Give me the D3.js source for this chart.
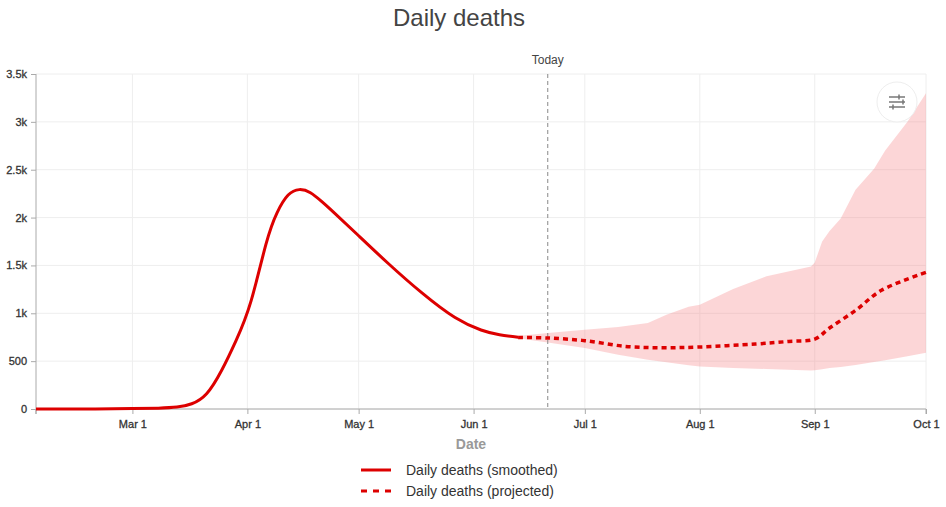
<!DOCTYPE html>
<html>
<head>
<meta charset="utf-8">
<script src="https://cdn.jsdelivr.net/npm/d3@7"></script>
<style>
  body { margin: 0; background: #fff; }
  text { font-family: "Liberation Sans", Arial, sans-serif; }
</style>
</head>
<body>
<div id="container"></div>
<script>
// smoothed (observed) daily deaths
const smoothDates = ["2020-02-04", "2020-02-20", "2020-03-01", "2020-03-08", "2020-03-13", "2020-03-17",
  "2020-03-21", "2020-03-25", "2020-03-29", "2020-04-02", "2020-04-06", "2020-04-09", "2020-04-12",
  "2020-04-15", "2020-04-18", "2020-04-21", "2020-04-24", "2020-05-01", "2020-05-09", "2020-05-18",
  "2020-05-27", "2020-06-03", "2020-06-08", "2020-06-13"];
const smoothValues = [0, 1, 4, 9, 20, 55, 160, 400, 720, 1130, 1720, 2050, 2235, 2292, 2260, 2170,
  2065, 1810, 1520, 1215, 955, 825, 775, 750];

// projected daily deaths
const projDates = ["2020-06-13", "2020-06-21", "2020-07-01", "2020-07-12", "2020-07-22", "2020-08-01",
  "2020-08-16", "2020-08-25", "2020-09-01", "2020-09-05", "2020-09-12", "2020-09-19", "2020-10-01"];
const projValues = [748, 742, 714, 654, 640, 648, 679, 706, 731, 846, 1030, 1240, 1428];

// uncertainty band
const bandDates = ["2020-06-13", "2020-06-21", "2020-07-01", "2020-07-10", "2020-07-18", "2020-07-23",
  "2020-07-29", "2020-08-01", "2020-08-10", "2020-08-19", "2020-08-31", "2020-09-01", "2020-09-03",
  "2020-09-05", "2020-09-08", "2020-09-12", "2020-09-17", "2020-09-20", "2020-09-26", "2020-10-01"];
const bandLower = [740, 696, 637, 567, 515, 488, 458, 445, 428, 418, 403, 404, 415, 428, 440, 460,
  490, 510, 550, 588];
const bandUpper = [762, 794, 829, 857, 899, 985, 1069, 1090, 1254, 1386, 1490, 1530, 1750, 1860,
  1990, 2290, 2510, 2700, 3000, 3300];

const yTicks = [0, 500, 1000, 1500, 2000, 2500, 3000, 3500];
const todayDate = "2020-06-21";
const legendLabels = ["Daily deaths (smoothed)", "Daily deaths (projected)"];

const width = 946, height = 507;
const margin = { top: 74, right: 20, bottom: 98, left: 36 };
const red = "#dd0000";
const parse = d3.timeParse("%Y-%m-%d");

const svg = d3.select("#container").append("svg")
  .attr("width", width)
  .attr("height", height);

const x = d3.scaleTime()
  .domain([parse("2020-02-04"), parse("2020-10-01")])
  .range([margin.left, width - margin.right]);
const y = d3.scaleLinear()
  .domain([0, 3500])
  .range([height - margin.bottom, margin.top]);

const monthTicks = d3.timeMonth.range(parse("2020-03-01"), parse("2020-10-02"));

// grid
svg.append("g").selectAll("line").data(yTicks).enter().append("line")
  .attr("x1", margin.left).attr("x2", width - margin.right)
  .attr("y1", d => y(d)).attr("y2", d => y(d))
  .attr("stroke", "#eeeeee").attr("stroke-width", 1);
svg.append("g").selectAll("line").data(monthTicks).enter().append("line")
  .attr("x1", d => x(d)).attr("x2", d => x(d))
  .attr("y1", margin.top).attr("y2", height - margin.bottom)
  .attr("stroke", "#eeeeee").attr("stroke-width", 1);

// band
const band = bandDates.map((d, i) => ({ date: parse(d), lo: bandLower[i], hi: bandUpper[i] }));
svg.append("path")
  .datum(band)
  .attr("fill", "rgba(247,128,132,0.32)")
  .attr("d", d3.area().x(d => x(d.date)).y0(d => y(d.lo)).y1(d => y(d.hi)));

// today marker
svg.append("line")
  .attr("x1", x(parse(todayDate))).attr("x2", x(parse(todayDate)))
  .attr("y1", margin.top).attr("y2", height - margin.bottom)
  .attr("stroke", "#888").attr("stroke-width", 1)
  .attr("stroke-dasharray", "4,3");
svg.append("text")
  .attr("x", x(parse(todayDate))).attr("y", 64)
  .attr("text-anchor", "middle")
  .attr("font-size", 12).attr("fill", "#444")
  .text("Today");

// axes
const xAxis = d3.axisBottom(x)
  .tickValues(monthTicks)
  .tickFormat(d3.timeFormat("%b %-d"))
  .tickSize(5);
const gx = svg.append("g")
  .attr("transform", "translate(0," + (height - margin.bottom) + ")")
  .call(xAxis);
gx.select(".domain").attr("stroke", "#aaa").attr("d", "M" + margin.left + ",0V5V0H" + (width - margin.right) + "V5");
gx.selectAll(".tick line").attr("stroke", "#aaa");
gx.selectAll(".tick text")
  .attr("font-size", 11).attr("fill", "#333")
  .attr("stroke", "#333").attr("stroke-width", 0.3)
  .attr("font-family", "Liberation Sans, Arial, sans-serif").attr("dy", "1em");

const yAxis = d3.axisLeft(y)
  .tickValues(yTicks)
  .tickFormat(d => d >= 1000 ? (d / 1000) + "k" : d)
  .tickSize(5);
const gy = svg.append("g")
  .attr("transform", "translate(" + margin.left + ",0)")
  .call(yAxis);
gy.select(".domain").attr("stroke", "#aaa").attr("d", "M0," + margin.top + "V" + (height - margin.bottom));
gy.selectAll(".tick line").attr("stroke", "#aaa");
gy.selectAll(".tick text")
  .attr("font-size", 11).attr("fill", "#333")
  .attr("stroke", "#333").attr("stroke-width", 0.3)
  .attr("font-family", "Liberation Sans, Arial, sans-serif").attr("x", -9);

svg.append("text")
  .attr("x", (margin.left + width - margin.right) / 2 - 10).attr("y", 449)
  .attr("text-anchor", "middle")
  .attr("font-size", 14).attr("font-weight", "bold").attr("fill", "#999")
  .text("Date");

// lines
const smoothLine = d3.line().x(d => x(d.date)).y(d => y(Math.max(0, d.v))).curve(d3.curveNatural);
const projLine = d3.line().x(d => x(d.date)).y(d => y(d.v)).curve(d3.curveCatmullRom.alpha(0.5));
const smooth = smoothDates.map((d, i) => ({ date: parse(d), v: smoothValues[i] }));
const proj = projDates.map((d, i) => ({ date: parse(d), v: projValues[i] }));

svg.append("path").datum(smooth)
  .attr("fill", "none").attr("stroke", red).attr("stroke-width", 3)
  .attr("d", smoothLine);
svg.append("path").datum(proj)
  .attr("fill", "none").attr("stroke", red).attr("stroke-width", 3.5)
  .attr("stroke-dasharray", "5,4")
  .attr("d", projLine);

// title
svg.append("text")
  .attr("x", 459).attr("y", 26)
  .attr("text-anchor", "middle")
  .attr("font-size", 24).attr("fill", "#444")
  .text("Daily deaths");

// settings button
const btn = svg.append("g").attr("transform", "translate(897,102)");
btn.append("circle").attr("r", 20).attr("fill", "#fff").attr("stroke", "#eee");
[[-5, 2], [0, 6], [5, -4]].forEach(([dy, kx]) => {
  btn.append("line").attr("x1", -8).attr("x2", 8).attr("y1", dy).attr("y2", dy)
    .attr("stroke", "#777").attr("stroke-width", 1.5);
  btn.append("line").attr("x1", kx).attr("x2", kx).attr("y1", dy - 2.5).attr("y2", dy + 2.5)
    .attr("stroke", "#777").attr("stroke-width", 1.5);
});

// legend
const legend = svg.append("g");
legendLabels.forEach((label, i) => {
  const ly = 470 + i * 21;
  legend.append("line")
    .attr("x1", 361).attr("x2", 391).attr("y1", ly).attr("y2", ly)
    .attr("stroke", red).attr("stroke-width", 3)
    .attr("stroke-dasharray", i === 1 ? "6,6" : null);
  legend.append("text")
    .attr("x", 406).attr("y", ly + 5)
    .attr("font-size", 14).attr("fill", "#333")
    .text(label);
});
</script>
</body>
</html>
